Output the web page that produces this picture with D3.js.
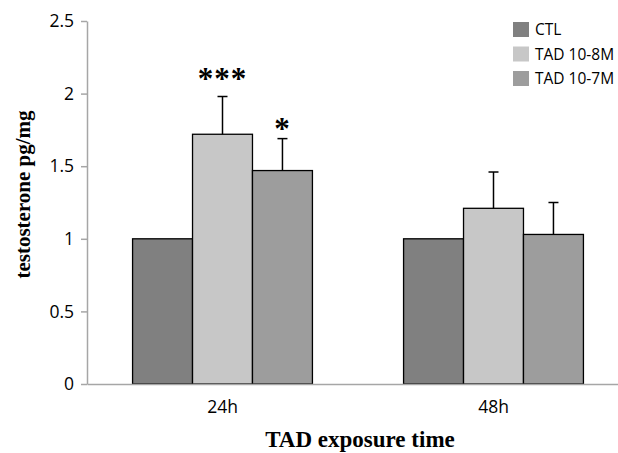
<!DOCTYPE html>
<html>
<head>
<meta charset="utf-8">
<script src="https://cdn.jsdelivr.net/npm/d3@7"></script>
<style>
  body { margin: 0; background: #fff; }
  svg { display: block; }
</style>
</head>
<body>
<svg id="chart" width="618" height="453"></svg>
<script>
const categories = ["24h", "48h"];
const series = ["CTL", "TAD 10-8M", "TAD 10-7M"];
const ctlValues = [1, 1];
const tad8Values = [1.72, 1.21];
const tad7Values = [1.47, 1.03];
const ctlErrors = [0, 0];
const tad8Errors = [0.26, 0.25];
const tad7Errors = [0.22, 0.22];
const significance = [["", "***", "*"], ["", "", ""]];
const yTicks = [0, 0.5, 1, 1.5, 2, 2.5];
const colors = ["#808080", "#c7c7c7", "#9d9d9d"];

const values = [ctlValues, tad8Values, tad7Values];
const errors = [ctlErrors, tad8Errors, tad7Errors];

const svg = d3.select("svg#chart");
const margin = { left: 87, top: 21, bottom: 69 };
const height = 453;
const sans = "'Open Sans', sans-serif";
const serif = "'Liberation Serif', serif";

const y = d3.scaleLinear().domain([0, 2.5]).range([height - margin.bottom, margin.top]);
const x0 = d3.scaleBand().domain(categories).range([margin.left, 629]).padding(0);
const x1 = d3
  .scaleBand()
  .domain(series)
  .range([0, x0.bandwidth()])
  .paddingInner(0)
  .paddingOuter(0.76);

const bars = categories.flatMap((cat, i) =>
  series.map((s, j) => ({
    cat,
    s,
    value: values[j][i],
    err: errors[j][i],
    sig: significance[i][j],
    color: colors[j],
  }))
);
const cx = (d) => x0(d.cat) + x1(d.s) + x1.bandwidth() / 2;

// axes
const yAxis = svg
  .append("g")
  .attr("transform", `translate(${margin.left},0)`)
  .call(d3.axisLeft(y).tickValues(yTicks).tickSize(6).tickSizeOuter(0).tickFormat(d3.format("")));
yAxis.select(".domain").attr("stroke", "#a6a6a6").attr("stroke-width", 1.5);
yAxis.selectAll(".tick line").attr("stroke", "#a6a6a6").attr("stroke-width", 1.5);
yAxis
  .selectAll(".tick text")
  .attr("x", -13)
  .attr("fill", "#000")
  .style("font-family", sans)
  .style("font-size", "17.5px");

// bars
svg
  .append("g")
  .selectAll("rect")
  .data(bars)
  .join("rect")
  .attr("x", (d) => x0(d.cat) + x1(d.s))
  .attr("y", (d) => y(d.value))
  .attr("width", x1.bandwidth())
  .attr("height", (d) => y(0) - y(d.value))
  .attr("fill", (d) => d.color)
  .attr("stroke", "#000")
  .attr("stroke-width", 1.3);

// error bars (upper only)
const errGroup = svg
  .append("g")
  .attr("stroke", "#000")
  .attr("stroke-width", 1.5)
  .selectAll("g")
  .data(bars.filter((d) => d.err > 0))
  .join("g");
errGroup
  .append("line")
  .attr("x1", cx)
  .attr("x2", cx)
  .attr("y1", (d) => y(d.value))
  .attr("y2", (d) => y(d.value + d.err));
errGroup
  .append("line")
  .attr("x1", (d) => cx(d) - 5)
  .attr("x2", (d) => cx(d) + 5)
  .attr("y1", (d) => y(d.value + d.err))
  .attr("y2", (d) => y(d.value + d.err));

// significance stars
svg
  .append("g")
  .selectAll("text")
  .data(bars.filter((d) => d.sig))
  .join("text")
  .attr("x", cx)
  .attr("y", (d) => y(d.value + d.err) - (d.sig.length > 1 ? 8 : 0))
  .attr("text-anchor", "middle")
  .style("font-family", serif)
  .style("font-weight", "bold")
  .style("font-size", "31px")
  .style("letter-spacing", "1px")
  .text((d) => d.sig);

// x axis
const xAxis = svg
  .append("g")
  .attr("transform", `translate(0,${y(0)})`)
  .call(d3.axisBottom(x0).tickSize(0).tickSizeOuter(0));
xAxis.select(".domain").attr("stroke", "#a6a6a6").attr("stroke-width", 1.5);
xAxis
  .selectAll(".tick text")
  .attr("y", 17)
  .attr("fill", "#000")
  .style("font-family", sans)
  .style("font-size", "17.5px");
xAxis
  .selectAll(".tick")
  .attr("transform", (d) => `translate(${x0(d) + x1("TAD 10-8M") + x1.bandwidth() / 2},0)`);

// axis titles
svg
  .append("text")
  .attr("transform", `translate(30,${(y(0) + y(2.5)) / 2 - 8}) rotate(-90)`)
  .attr("text-anchor", "middle")
  .style("font-family", serif)
  .style("font-weight", "bold")
  .style("font-size", "21px")
  .text("testosterone pg/mg");

svg
  .append("text")
  .attr("x", 360)
  .attr("y", 447)
  .attr("text-anchor", "middle")
  .style("font-family", serif)
  .style("font-weight", "bold")
  .style("font-size", "23px")
  .text("TAD exposure time");

// legend
const legend = svg
  .append("g")
  .attr("transform", "translate(513,22)")
  .selectAll("g")
  .data(series)
  .join("g")
  .attr("transform", (d, i) => `translate(0,${i * 24.5})`);
legend
  .append("rect")
  .attr("width", 16)
  .attr("height", 15)
  .attr("fill", (d, i) => colors[i]);
legend
  .append("text")
  .attr("x", 22)
  .attr("y", 13)
  .style("font-family", sans)
  .style("font-size", "15.5px")
  .text((d) => d);
</script>
</body>
</html>
